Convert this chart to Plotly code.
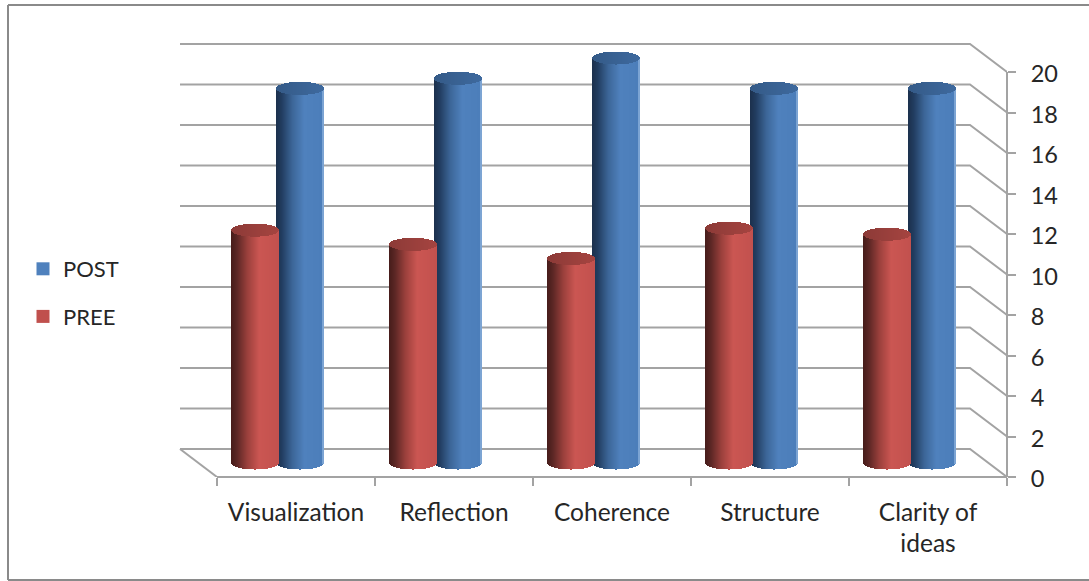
import numpy as np
import plotly.graph_objects as go

# Chart data
categories = ["Visualization", "Reflection", "Coherence", "Structure", "Clarity of<br>ideas"]
post_values = [18.5, 19.0, 20.0, 18.5, 18.5]
pree_values = [11.5, 10.8, 10.1, 11.6, 11.3]
value_ticks = list(range(0, 21, 2))

# Canvas and front-plane box in pixels
WIDTH, HEIGHT = 1089, 581
LEFT, RIGHT, TOP, BOTTOM = 217, 1007, 72, 477
# The plot area reaches past the front plane so the back wall fits inside it
AREA_LEFT, AREA_TOP = 170, 30
px_x = (RIGHT - LEFT) / len(categories)   # pixels per category
px_y = (BOTTOM - TOP) / 20                # pixels per value unit
n = len(categories)
X_RANGE = [(AREA_LEFT - LEFT) / px_x, n]
Y_RANGE = [0, (BOTTOM - AREA_TOP) / px_y]

# Oblique projection: depth of the floor in axis units
DEPTH_X = 37 / px_x
DEPTH_Y = 28 / px_y
GRID = "#a3a3a3"
FRAME = "#8a8a8a"
TEXT = "#262626"
FONT = "Lato"

# Cylinder geometry in axis units
HALF_W = 23.5 / px_x
CAP_H = 6.5 / px_y
N_STRIPS = 47
OFFSETS = {"POST": 23 / px_x, "PREE": -22.5 / px_x}


def mix(stops, t):
    xs = [s[0] for s in stops]
    rgb = [np.interp(t, xs, [s[1][k] for s in stops]) for k in range(3)]
    return "rgb({:.0f},{:.0f},{:.0f})".format(*rgb)


SIDE_STOPS = {
    "POST": [(0, (27, 48, 76)), (0.12, (33, 60, 95)), (0.35, (60, 102, 152)),
             (0.6, (79, 129, 189)), (0.97, (76, 126, 186)), (1, (150, 185, 225))],
    "PREE": [(0, (70, 28, 26)), (0.12, (90, 38, 36)), (0.35, (155, 64, 60)),
             (0.6, (203, 86, 82)), (1, (194, 81, 78))],
}
CAP_STOPS = {
    "POST": [(0, (52, 90, 135)), (1, (62, 105, 158))],
    "PREE": [(0, (140, 58, 55)), (1, (165, 68, 64))],
}


def cylinder_traces(name, values):
    """Build a cylinder from thin bars: one trace for the body, one for the cap."""
    xs, bases, heights, colors = [], [], [], []
    cx, cbases, cheights, ccolors = [], [], [], []
    floor = DEPTH_Y / 2
    for i, v in enumerate(values):
        center = i + 0.5 - DEPTH_X / 2 + OFFSETS[name]
        for k in range(N_STRIPS):
            t = (k + 0.5) / N_STRIPS
            u = 2 * t - 1
            arc = CAP_H * np.sqrt(1 - u * u)
            x = center + u * HALF_W
            top = floor + v
            xs.append(x)
            bases.append(floor - arc)
            heights.append(v)
            colors.append(mix(SIDE_STOPS[name], t))
            cx.append(x)
            cbases.append(top - arc)
            cheights.append(2 * arc)
            ccolors.append(mix(CAP_STOPS[name], t))
    strip = 2 * HALF_W / N_STRIPS * 1.15
    common = dict(width=strip, xaxis="x2", yaxis="y2", showlegend=False, hoverinfo="skip")
    return [
        go.Bar(x=xs, y=heights, base=bases, marker=dict(color=colors, line_width=0), **common),
        go.Bar(x=cx, y=cheights, base=cbases, marker=dict(color=ccolors, line_width=0), **common),
    ]


# Back wall lines with their diagonals down to the value axis, plus the floor edge
wall_x, wall_y = [], []
for v in value_ticks:
    wall_x += [-DEPTH_X, n - DEPTH_X, n, None]
    wall_y += [v + DEPTH_Y, v + DEPTH_Y, v, None]
wall_x += [-DEPTH_X, 0]
wall_y += [DEPTH_Y, 0]

fig = go.Figure()
fig.add_trace(go.Scatter(x=wall_x, y=wall_y, mode="lines",
                         line=dict(color=GRID, width=2), showlegend=False, hoverinfo="skip"))

for name, values in (("POST", post_values), ("PREE", pree_values)):
    for tr in cylinder_traces(name, values):
        fig.add_trace(tr)

# Legend entries
for name, color in (("POST", "#4f81bd"), ("PREE", "#c0504d")):
    fig.add_trace(go.Scatter(x=[None], y=[None], mode="markers", name=name, legendgroup=name,
                             marker=dict(symbol="square", size=13, color=color)))


def to_paper_x(px):
    return (px - AREA_LEFT) / (RIGHT - AREA_LEFT)


def to_paper_y(px):
    return (BOTTOM - px) / (BOTTOM - AREA_TOP)


def paper_line(x0, y0, x1, y1, color, width=2):
    return dict(type="line", xref="paper", yref="paper",
                x0=to_paper_x(x0), x1=to_paper_x(x1), y0=to_paper_y(y0), y1=to_paper_y(y1),
                line=dict(color=color, width=width))


shapes = [
    # Outer chart frame
    paper_line(8, 5, WIDTH, 5, FRAME),
    paper_line(8, 5, 8, HEIGHT - 1, FRAME),
    paper_line(8, HEIGHT - 1, WIDTH, HEIGHT - 1, FRAME),
    # Front edges: value axis and category axis
    paper_line(RIGHT, TOP, RIGHT, BOTTOM, GRID),
    paper_line(LEFT, BOTTOM, RIGHT, BOTTOM, GRID),
]

fig.update_layout(
    width=WIDTH, height=HEIGHT,
    margin=dict(l=AREA_LEFT, r=WIDTH - RIGHT, t=AREA_TOP, b=HEIGHT - BOTTOM, autoexpand=False),
    paper_bgcolor="white", plot_bgcolor="rgba(0,0,0,0)",
    barmode="overlay", bargap=0,
    font=dict(family=FONT, size=22, color=TEXT),
    shapes=shapes,
    legend=dict(x=to_paper_x(23), xanchor="left", y=to_paper_y(248), yanchor="top",
                tracegroupgap=16, itemwidth=30, font=dict(size=22),
                bgcolor="rgba(0,0,0,0)", traceorder="grouped"),
    xaxis=dict(range=X_RANGE, tickmode="array", tickvals=[i + 0.5 for i in range(n)],
               ticktext=categories, ticks="", showgrid=False, zeroline=False,
               showline=False, ticklabelstandoff=18, tickangle=0, tickfont=dict(size=24.5),
               minor=dict(tickmode="array", tickvals=list(range(n + 1)), ticks="outside",
                          ticklen=8, tickwidth=2, tickcolor=GRID, showgrid=False)),
    yaxis=dict(range=Y_RANGE, side="right", tickmode="array", tickvals=value_ticks,
               ticks="outside", ticklen=8, tickwidth=2, tickcolor=GRID, showgrid=False,
               zeroline=False, showline=False, ticklabelstandoff=10, ticklabelshift=2,
               anchor="x", tickfont=dict(size=23.5)),
    xaxis2=dict(range=X_RANGE, overlaying="x", visible=False),
    yaxis2=dict(range=Y_RANGE, overlaying="y", visible=False),
)

fig.write_html("out.html")
